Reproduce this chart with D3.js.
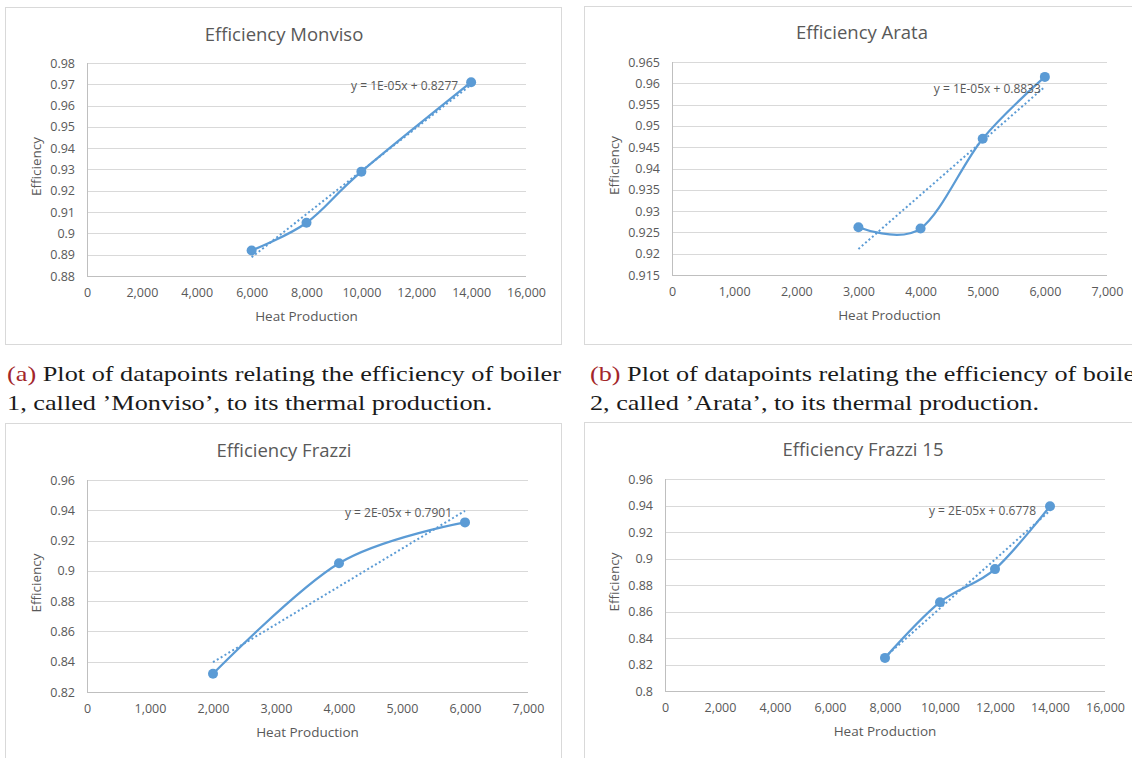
<!DOCTYPE html>
<html>
<head>
<meta charset="utf-8">
<script src="https://cdn.jsdelivr.net/npm/d3@7"></script>
<style>
  body { margin: 0; background: #fff; }
  svg { display: block; }
  .caption { font-family: "Liberation Serif", "Times New Roman", Times, serif; font-size: 22px; }
</style>
</head>
<body>
<svg id="fig" width="1132" height="758"></svg>
<script>
// Boiler efficiency measurements (heat production vs. efficiency)
const monvisoHeat = [6000, 8000, 10000, 14000];
const monvisoEff = [0.892, 0.905, 0.929, 0.971];
const arataHeat = [3000, 4000, 5000, 6000];
const arataEff = [0.9262, 0.9259, 0.947, 0.9615];
const frazziHeat = [2000, 4000, 6000];
const frazziEff = [0.832, 0.905, 0.932];
const frazzi15Heat = [8000, 10000, 12000, 14000];
const frazzi15Eff = [0.825, 0.867, 0.892, 0.9395];

const chartTitles = ["Efficiency Monviso", "Efficiency Arata", "Efficiency Frazzi", "Efficiency Frazzi 15"];
const trendLabels = ["y = 1E-05x + 0.8277", "y = 1E-05x + 0.8833", "y = 2E-05x + 0.7901", "y = 2E-05x + 0.6778"];

const monvisoXTicks = [0, 2000, 4000, 6000, 8000, 10000, 12000, 14000, 16000];
const monvisoYTicks = [0.88, 0.89, 0.90, 0.91, 0.92, 0.93, 0.94, 0.95, 0.96, 0.97, 0.98];
const arataXTicks = [0, 1000, 2000, 3000, 4000, 5000, 6000, 7000];
const arataYTicks = [0.915, 0.92, 0.925, 0.93, 0.935, 0.94, 0.945, 0.95, 0.955, 0.96, 0.965];
const frazziXTicks = [0, 1000, 2000, 3000, 4000, 5000, 6000, 7000];
const frazziYTicks = [0.82, 0.84, 0.86, 0.88, 0.90, 0.92, 0.94, 0.96];
const frazzi15XTicks = [0, 2000, 4000, 6000, 8000, 10000, 12000, 14000, 16000];
const frazzi15YTicks = [0.80, 0.82, 0.84, 0.86, 0.88, 0.90, 0.92, 0.94, 0.96];

const captionTags = ["(a)", "(b)"];
const captionLines1 = [" Plot of datapoints relating the efficiency of boiler", " Plot of datapoints relating the efficiency of boiler"];
const captionLines2 = ["1, called \u2019Monviso\u2019, to its thermal production.", "2, called \u2019Arata\u2019, to its thermal production."];

const xAxisTitle = "Heat Production";
const yAxisTitle = "Efficiency";

// Layout of the four chart panels
const panels = [
  { title: chartTitles[0], heat: monvisoHeat, eff: monvisoEff, xTicks: monvisoXTicks, yTicks: monvisoYTicks, trend: trendLabels[0],
    frame: [5.5, 7.5, 556, 337], plot: { l: 87, r: 526, t: 63, b: 276 }, titleX: 284, titleY: 33, yTitleX: 36, labelDx: -13, labelDy: 1 },
  { title: chartTitles[1], heat: arataHeat, eff: arataEff, xTicks: arataXTicks, yTicks: arataYTicks, trend: trendLabels[1],
    frame: [584.5, 6.5, 556, 338], plot: { l: 672, r: 1107, t: 62, b: 275 }, titleX: 862, titleY: 31, yTitleX: 614, labelDx: -4, labelDy: 2 },
  { title: chartTitles[2], heat: frazziHeat, eff: frazziEff, xTicks: frazziXTicks, yTicks: frazziYTicks, trend: trendLabels[2],
    frame: [5.5, 423.5, 556, 345], plot: { l: 87, r: 528, t: 480, b: 692 }, titleX: 284, titleY: 449, yTitleX: 36, labelDx: -13, labelDy: 2 },
  { title: chartTitles[3], heat: frazzi15Heat, eff: frazzi15Eff, xTicks: frazzi15XTicks, yTicks: frazzi15YTicks, trend: trendLabels[3],
    frame: [584.5, 422.5, 556, 345], plot: { l: 665, r: 1105, t: 479, b: 691 }, titleX: 863, titleY: 448, yTitleX: 614, labelDx: -14, labelDy: 0 }
];

const SERIES = "#5b9bd5";
const GRID = "#d9d9d9";
const TEXT = "#595959";
const UI_FONT = "'Open Sans', 'Noto Sans', sans-serif";

const svg = d3.select("#fig");

// Least-squares linear fit for the trendline
function linearFit(xs, ys) {
  const mx = d3.mean(xs), my = d3.mean(ys);
  let sxy = 0, sxx = 0;
  xs.forEach((x, i) => { sxy += (x - mx) * (ys[i] - my); sxx += (x - mx) * (x - mx); });
  const slope = sxy / sxx;
  return { slope, intercept: my - slope * mx };
}

const fmtX = d3.format(",");
const fmtY = v => String(+v.toFixed(3));

panels.forEach(p => {
  const g = svg.append("g");
  const [fx, fy, fw, fh] = p.frame;

  g.append("rect")
    .attr("x", fx).attr("y", fy).attr("width", fw).attr("height", fh)
    .attr("fill", "#fff").attr("stroke", GRID).attr("stroke-width", 1);

  const x = d3.scaleLinear().domain(d3.extent(p.xTicks)).range([p.plot.l, p.plot.r]);
  const y = d3.scaleLinear().domain(d3.extent(p.yTicks)).range([p.plot.b, p.plot.t]);

  // Horizontal gridlines
  g.append("g").selectAll("line").data(p.yTicks.slice(1)).join("line")
    .attr("x1", p.plot.l).attr("x2", p.plot.r)
    .attr("y1", d => Math.round(y(d)) + 0.5).attr("y2", d => Math.round(y(d)) + 0.5)
    .attr("stroke", GRID).attr("stroke-width", 1);

  // Axis lines
  g.append("line")
    .attr("x1", p.plot.l).attr("x2", p.plot.r)
    .attr("y1", Math.round(y(p.yTicks[0])) + 0.5).attr("y2", Math.round(y(p.yTicks[0])) + 0.5)
    .attr("stroke", "#bfbfbf").attr("stroke-width", 1);
  g.append("line")
    .attr("x1", Math.round(x(0)) + 0.5).attr("x2", Math.round(x(0)) + 0.5)
    .attr("y1", p.plot.t).attr("y2", p.plot.b)
    .attr("stroke", "#bfbfbf").attr("stroke-width", 1);

  // Tick labels through d3 axes, with domain and tick marks hidden
  const xAxis = g.append("g")
    .attr("transform", `translate(0,${p.plot.b})`)
    .call(d3.axisBottom(x).tickValues(p.xTicks).tickFormat(fmtX).tickSize(0).tickPadding(12));
  const yAxis = g.append("g")
    .attr("transform", `translate(${p.plot.l},0)`)
    .call(d3.axisLeft(y).tickValues(p.yTicks).tickFormat(fmtY).tickSize(0).tickPadding(12));
  [xAxis, yAxis].forEach(a => {
    a.select(".domain").remove();
    a.selectAll("text").attr("fill", TEXT).style("font-family", UI_FONT).style("font-size", "12.5px");
  });

  // Chart title and axis titles
  g.append("text").text(p.title)
    .attr("x", p.titleX).attr("y", p.titleY)
    .attr("text-anchor", "middle").attr("dominant-baseline", "central")
    .attr("fill", TEXT).style("font-family", UI_FONT).style("font-size", "18.5px");
  g.append("text").text(xAxisTitle)
    .attr("x", (p.plot.l + p.plot.r) / 2).attr("y", p.plot.b + 40)
    .attr("text-anchor", "middle").attr("dominant-baseline", "central")
    .attr("fill", TEXT).style("font-family", UI_FONT).style("font-size", "13.5px");
  g.append("text").text(yAxisTitle)
    .attr("transform", `translate(${p.yTitleX},${(p.plot.t + p.plot.b) / 2 - 3}) rotate(-90)`)
    .attr("text-anchor", "middle").attr("dominant-baseline", "central")
    .attr("fill", TEXT).style("font-family", UI_FONT).style("font-size", "13.5px");

  const pts = p.heat.map((h, i) => [h, p.eff[i]]);

  // Linear trendline (dotted)
  const fit = linearFit(p.heat, p.eff);
  const [x0, x1] = d3.extent(p.heat);
  g.append("line")
    .attr("x1", x(x0)).attr("y1", y(fit.intercept + fit.slope * x0))
    .attr("x2", x(x1)).attr("y2", y(fit.intercept + fit.slope * x1))
    .attr("stroke", SERIES).attr("stroke-width", 2)
    .attr("stroke-dasharray", "2 2.5");

  // Smoothed series line
  const line = d3.line().x(d => x(d[0])).y(d => y(d[1])).curve(d3.curveCardinal.tension(0));
  g.append("path").datum(pts).attr("d", line)
    .attr("fill", "none").attr("stroke", SERIES).attr("stroke-width", 2.25)
    .attr("stroke-linejoin", "round").attr("stroke-linecap", "round");

  // Markers
  g.append("g").selectAll("circle").data(pts).join("circle")
    .attr("cx", d => x(d[0])).attr("cy", d => y(d[1])).attr("r", 5)
    .attr("fill", SERIES);

  // Trendline equation label
  g.append("text").text(p.trend)
    .attr("x", x(x1) + p.labelDx).attr("y", y(fit.intercept + fit.slope * x1) + p.labelDy)
    .attr("text-anchor", "end").attr("dominant-baseline", "central")
    .attr("fill", TEXT).style("font-family", UI_FONT).style("font-size", "12px");
});

// Sub-figure captions
const capX = [7, 590];
captionTags.forEach((tag, i) => {
  const t1 = svg.append("text").attr("class", "caption")
    .attr("x", capX[i]).attr("y", 381).attr("fill", "#1a1a1a");
  t1.append("tspan").text(tag).attr("fill", "#a3262a");
  t1.append("tspan").text(captionLines1[i]);
  const natural1 = t1.node().getComputedTextLength();
  const target1 = 554;
  t1.attr("textLength", target1).attr("lengthAdjust", "spacingAndGlyphs");

  const t2 = svg.append("text").attr("class", "caption")
    .attr("x", capX[i]).attr("y", 410).attr("fill", "#1a1a1a")
    .text(captionLines2[i]);
  const natural2 = t2.node().getComputedTextLength();
  t2.attr("textLength", natural2 * target1 / natural1).attr("lengthAdjust", "spacingAndGlyphs");
});
</script>
</body>
</html>
